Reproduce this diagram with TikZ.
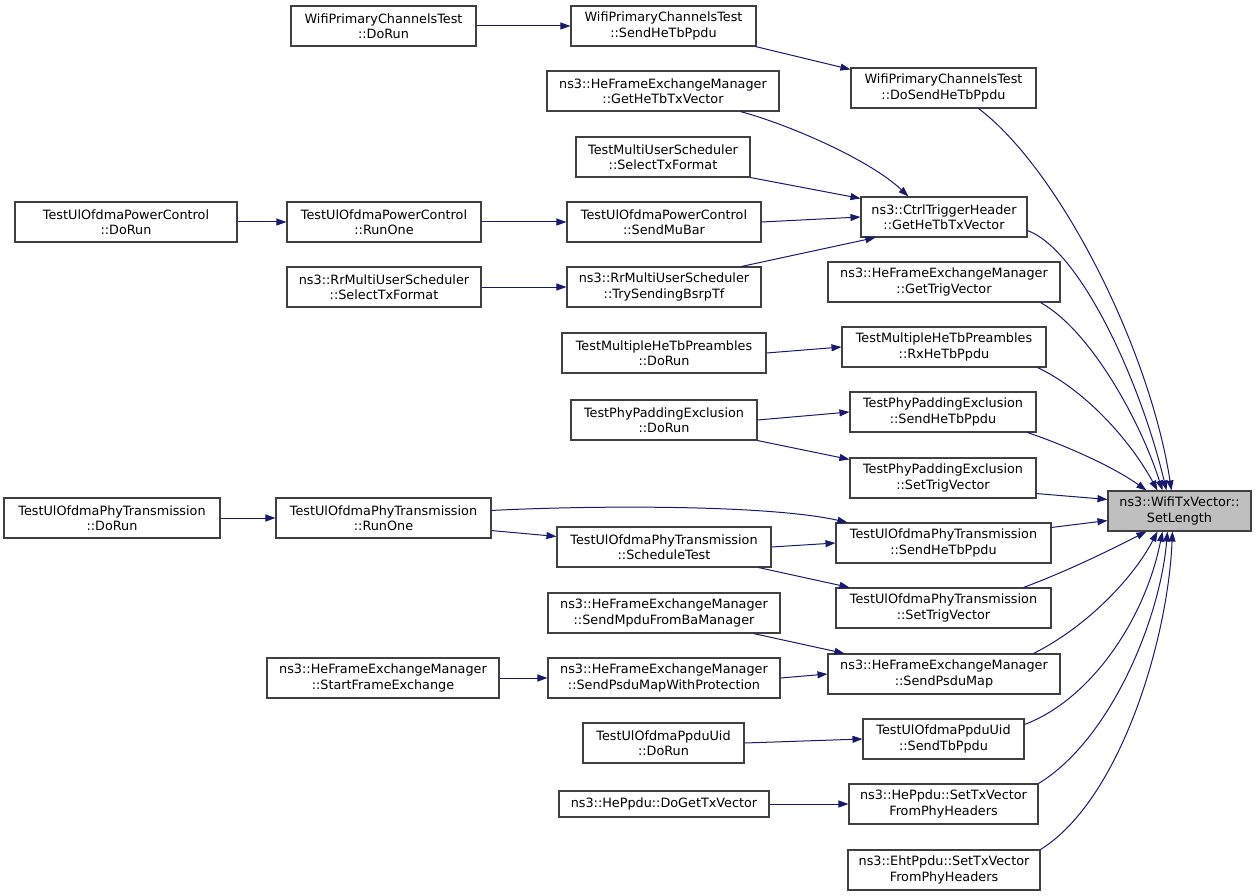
\documentclass[tikz,border=0pt]{standalone}
\usepackage{fontspec}
\setmainfont{DejaVu Sans}
\usetikzlibrary{arrows.meta}
\definecolor{edgeblue}{RGB}{25,25,112}
\definecolor{boxline}{RGB}{64,64,64}
\definecolor{hilite}{RGB}{191,191,191}
\newcommand\mkbox[7][]{\node[box,#1,minimum width={#3-#2},minimum height={#5-#4}] (#6) at ({(#2+#3)/2},{(#4+#5)/2}) {#7};}
\tikzset{
  box/.style={draw=boxline,line width=1.1pt,fill=white,inner sep=0pt,align=center,
    font=\fontsize{12.8pt}{15.5pt}\selectfont},
  edge/.style={draw=edgeblue,line width=1pt,-{Triangle[length=10pt,width=7pt]}}
}
\begin{document}
\begin{tikzpicture}[x=1pt,y=-1pt]
\useasboundingbox[fill=white] (0,0) rectangle (1256,896);
% nodes: x1 x2 y1 y2
\mkbox{291}{476}{6}{46}{n1}{WifiPrimaryChannelsTest\\::DoRun}
\mkbox{571}{756}{6}{46}{n2}{WifiPrimaryChannelsTest\\::SendHeTbPpdu}
\mkbox{851}{1036}{68}{108}{n3}{WifiPrimaryChannelsTest\\::DoSendHeTbPpdu}
\mkbox{547}{779}{71}{111}{n4}{ns3::HeFrameExchangeManager\\::GetHeTbTxVector}
\mkbox{576}{750}{137}{177}{n5}{TestMultiUserScheduler\\::SelectTxFormat}
\mkbox{861}{1027}{197}{237}{n6}{ns3::CtrlTriggerHeader\\::GetHeTbTxVector}
\mkbox{15}{237}{202}{242}{n7}{TestUlOfdmaPowerControl\\::DoRun}
\mkbox{287}{481}{202}{242}{n8}{TestUlOfdmaPowerControl\\::RunOne}
\mkbox{567}{761}{202}{242}{n9}{TestUlOfdmaPowerControl\\::SendMuBar}
\mkbox{287}{481}{267}{307}{n10}{ns3::RrMultiUserScheduler\\::SelectTxFormat}
\mkbox{567}{761}{267}{307}{n11}{ns3::RrMultiUserScheduler\\::TrySendingBsrpTf}
\mkbox{828}{1060}{262}{302}{n12}{ns3::HeFrameExchangeManager\\::GetTrigVector}
\mkbox{562}{766}{333}{373}{n13}{TestMultipleHeTbPreambles\\::DoRun}
\mkbox{842}{1046}{327}{367}{n14}{TestMultipleHeTbPreambles\\::RxHeTbPpdu}
\mkbox{571}{757}{400}{440}{n15}{TestPhyPaddingExclusion\\::DoRun}
\mkbox{850}{1036}{392}{432}{n16}{TestPhyPaddingExclusion\\::SendHeTbPpdu}
\mkbox{850}{1036}{458}{498}{n17}{TestPhyPaddingExclusion\\::SetTrigVector}
\mkbox[fill=hilite]{1108}{1251}{491}{531}{n18}{ns3::WifiTxVector::\\SetLength}
\mkbox{4}{220}{498}{538}{n19}{TestUlOfdmaPhyTransmission\\::DoRun}
\mkbox{276}{491}{498}{538}{n20}{TestUlOfdmaPhyTransmission\\::RunOne}
\mkbox{557}{771}{527}{567}{n21}{TestUlOfdmaPhyTransmission\\::ScheduleTest}
\mkbox{836}{1051}{523}{563}{n22}{TestUlOfdmaPhyTransmission\\::SendHeTbPpdu}
\mkbox{836}{1051}{588}{628}{n23}{TestUlOfdmaPhyTransmission\\::SetTrigVector}
\mkbox{548}{780}{593}{633}{n24}{ns3::HeFrameExchangeManager\\::SendMpduFromBaManager}
\mkbox{267}{499}{658}{698}{n25}{ns3::HeFrameExchangeManager\\::StartFrameExchange}
\mkbox{548}{780}{658}{698}{n26}{ns3::HeFrameExchangeManager\\::SendPsduMapWithProtection}
\mkbox{828}{1060}{654}{694}{n27}{ns3::HeFrameExchangeManager\\::SendPsduMap}
\mkbox{583}{744}{723}{763}{n28}{TestUlOfdmaPpduUid\\::DoRun}
\mkbox{863}{1024}{719}{759}{n29}{TestUlOfdmaPpduUid\\::SendTbPpdu}
\mkbox{559}{769}{791}{817}{n30}{ns3::HePpdu::DoGetTxVector}
\mkbox{849}{1038}{784}{824}{n31}{ns3::HePpdu::SetTxVector\\FromPhyHeaders}
\mkbox{848}{1040}{850}{890}{n32}{ns3::EhtPpdu::SetTxVector\\FromPhyHeaders}
% edges
\draw[edge] (n1.east) -- (n2.west);
\draw[edge] ([xshift=-1pt]n2.south east) -- ([yshift=-2pt]n3.north west);
\draw[edge] ([xshift=-58pt]n3.south east) .. controls (1060,170) and (1150,350) .. ([xshift=64pt]n18.north west);
\draw[edge] ([xshift=-39pt]n4.south east) .. controls (790,125) and (870,160) .. ([xshift=48pt]n6.north west);
\draw[edge] (n5.south east) -- ([yshift=-2pt]n6.north west);
\draw[edge] (n9.east) -- (n6.west);
\draw[edge] ([xshift=-20pt]n11.north east) -- ([xshift=15pt]n6.south west);
\draw[edge] ([yshift=7pt]n6.south east) .. controls (1080,250) and (1140,380) .. ([xshift=59pt]n18.north west);
\draw[edge] (n7.east) -- (n8.west);
\draw[edge] (n8.east) -- (n9.west);
\draw[edge] (n10.east) -- (n11.west);
\draw[edge] ([xshift=-20pt]n12.south east) .. controls (1090,330) and (1140,420) .. ([xshift=55pt]n18.north west);
\draw[edge] (n13.east) -- (n14.west);
\draw[edge] ([xshift=-9pt]n14.south east) .. controls (1085,390) and (1130,440) .. ([xshift=50pt]n18.north west);
\draw[edge] (n15.east) -- (n16.west);
\draw[edge] (n15.south east) -- ([yshift=-2pt]n17.north west);
\draw[edge] ([xshift=-9pt]n16.south east) .. controls (1070,447) and (1115,468) .. ([xshift=39pt]n18.north west);
\draw[edge] ([yshift=5pt]n17.south east) -- ([yshift=-9pt]n18.north west);
\draw[edge] (n19.east) -- (n20.west);
\draw[edge] ([yshift=8pt]n20.south east) -- ([yshift=-10pt]n21.north west);
\draw[edge] ([yshift=-13pt]n20.north east) .. controls (600,505) and (770,505) .. ([xshift=12pt]n22.north west);
\draw[edge] (n21.east) -- (n22.west);
\draw[edge] ([xshift=-13pt]n21.south east) -- ([xshift=14pt]n23.north west);
\draw[edge] ([yshift=-5pt]n22.north east) -- ([yshift=11pt]n18.south west);
\draw[edge] ([xshift=-28pt]n23.north east) .. controls (1070,570) and (1110,550) .. ([xshift=39pt]n18.south west);
\draw[edge] ([xshift=-27pt]n24.south east) -- ([xshift=17pt]n27.north west);
\draw[edge] (n25.east) -- (n26.west);
\draw[edge] (n26.east) -- (n27.west);
\draw[edge] ([xshift=-27pt]n27.north east) .. controls (1090,625) and (1135,575) .. ([xshift=50pt]n18.south west);
\draw[edge] (n28.east) -- (n29.west);
\draw[edge] ([yshift=-6pt]n29.north east) .. controls (1090,700) and (1145,620) .. ([xshift=55pt]n18.south west);
\draw[edge] (n30.east) -- (n31.west);
\draw[edge] (n31.north east) .. controls (1110,740) and (1160,620) .. ([xshift=60pt]n18.south west);
\draw[edge] (n32.north east) .. controls (1120,800) and (1168,640) .. ([xshift=65pt]n18.south west);
\end{tikzpicture}
\end{document}
